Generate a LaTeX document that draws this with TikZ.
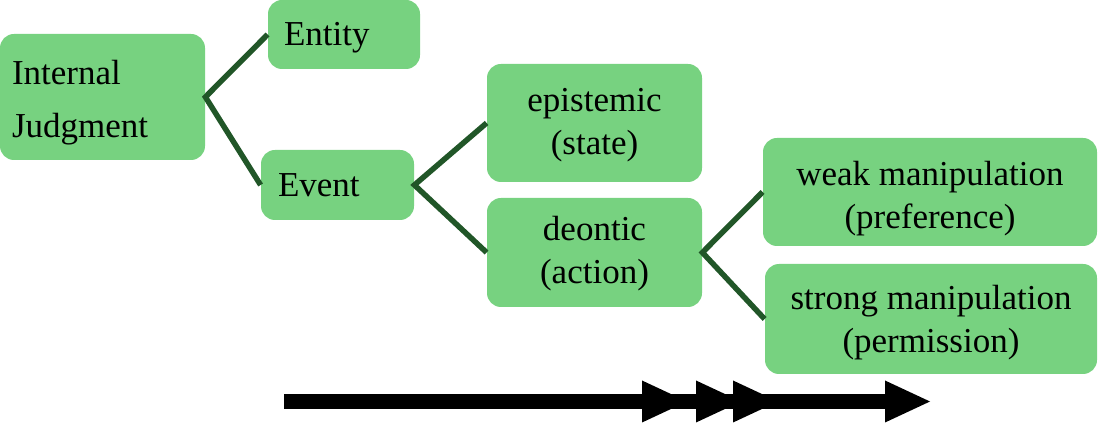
\documentclass[tikz,border=0pt]{standalone}
\usepackage{fontspec}
\setmainfont{Liberation Serif}
\definecolor{boxgreen}{RGB}{119,210,128}
\definecolor{linegreen}{RGB}{33,86,40}
\newcommand{\tstrut}[1]{\rule{0pt}{#1pt}}
\begin{document}
\begin{tikzpicture}[x=0.5pt,y=-0.5pt,
  box/.style={fill=boxgreen,draw=none,rounded corners=7pt,inner sep=0pt,
    font=\fontsize{17.5}{21.5}\selectfont},
  link/.style={draw=linegreen,line width=2.75pt},
  head/.style={fill=black,draw=none}]
\useasboundingbox (0,0) rectangle (1099,438);
\node[box,minimum width=102.5pt,minimum height=63pt,text width=90.5pt,align=left,
  font=\fontsize{17.5}{26.5}\selectfont] (ij) at (102.5,97) {\tstrut{18}Internal\\Judgment};
\node[box,minimum width=76pt,minimum height=34.5pt,text width=60pt,align=left] (entity) at (344,34.5) {\tstrut{15}Entity};
\node[box,minimum width=76.5pt,minimum height=35pt,text width=59.5pt,align=left] (event) at (337.5,185) {Event};
\node[box,minimum width=107.5pt,minimum height=59pt,align=center] (epi) at (594.5,123) {\tstrut{14}epistemic\\(state)};
\node[box,minimum width=107.5pt,minimum height=54.5pt,align=center] (deo) at (594.5,252.5) {\tstrut{13}deontic\\(action)};
\node[box,minimum width=167pt,minimum height=54pt,align=center] (weak) at (930,192) {\tstrut{19}weak manipulation\\(preference)};
\node[box,minimum width=166pt,minimum height=55pt,align=center] (strong) at (931,319) {\tstrut{16}strong manipulation\\(permission)};
\draw[link] (entity.west) -- (ij.east) -- (event.west);
\draw[link] (epi.west) -- (event.east) -- (deo.west);
\draw[link] (weak.west) -- (deo.east) -- (strong.west);
\coordinate (as) at (284,401.5);
\coordinate (ae) at (900,401.5);
\draw[line width=7.5pt] (as) -- (ae);
\foreach \b in {642,696,733,885}{
  \fill[head] (\b,380.5) -- (\b+45,401.5) -- (\b,422.5) -- cycle;
}
\end{tikzpicture}
\end{document}
